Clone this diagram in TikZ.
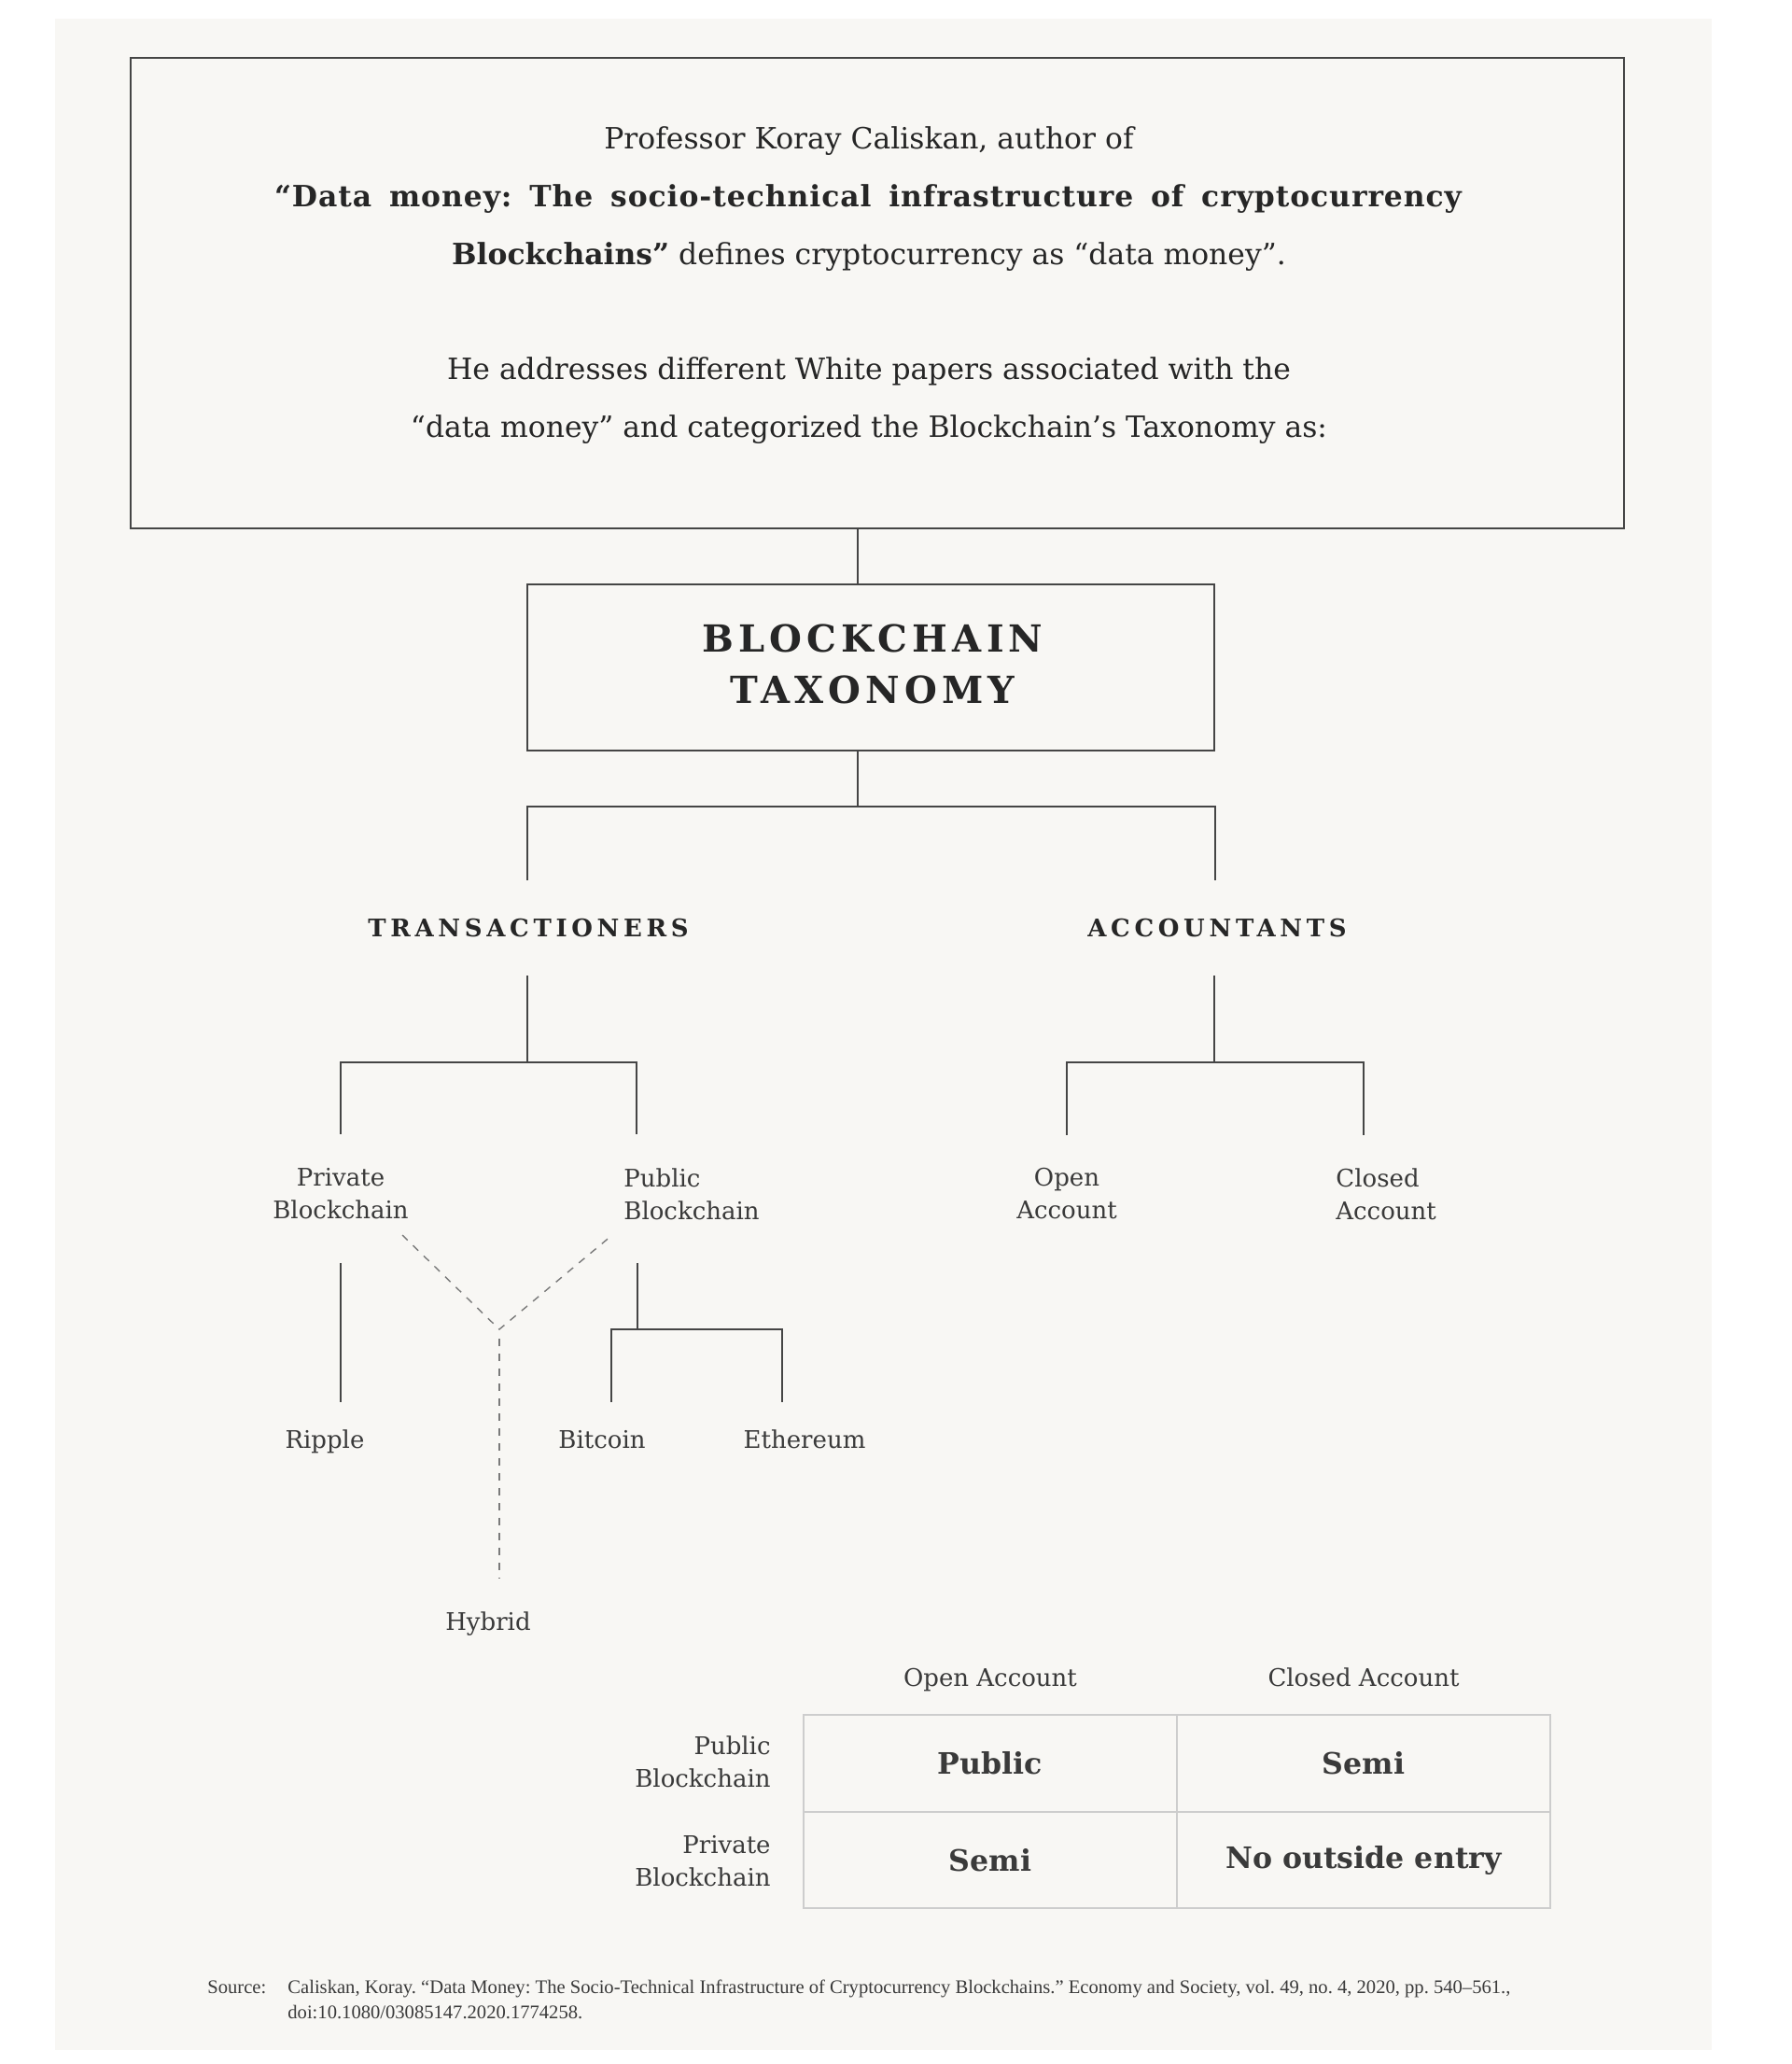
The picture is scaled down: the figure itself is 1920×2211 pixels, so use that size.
\documentclass[tikz,border=0pt]{standalone}
\usepackage{fontspec}
\setmainfont{DejaVu Serif}
\newfontfamily\srcfont{Liberation Serif}
\definecolor{bg}{HTML}{F8F7F4}
\definecolor{ink}{HTML}{262626}
\definecolor{txt}{HTML}{3A3A3A}
\definecolor{ln}{HTML}{454545}
\definecolor{dsh}{HTML}{7A7A7A}
\definecolor{gridc}{HTML}{CDCDCD}
\tikzset{
  conn/.style={draw=ln, line width=0.8pt},
  dashconn/.style={draw=dsh, line width=0.7pt, dash pattern=on 4pt off 4pt},
  framebox/.style={draw=ln, line width=0.8pt, inner sep=0pt, outer sep=0pt},
  introline/.style={anchor=base, inner sep=0pt, text=ink, font=\fontsize{15.7pt}{31pt}\selectfont},
  lbl/.style={inner sep=0pt, text=txt, font=\fontsize{13pt}{17.5pt}\selectfont},
  headlbl/.style={anchor=base, inner sep=0pt, text=ink, font=\fontsize{13pt}{16pt}\selectfont\bfseries\addfontfeature{LetterSpace=18}},
  taxlbl/.style={inner sep=0pt, text=ink, align=center, font=\fontsize{20pt}{27.5pt}\selectfont\bfseries\addfontfeature{LetterSpace=13}},
  cell/.style={draw=gridc, line width=0.8pt, inner sep=0pt, outer sep=0pt, text=txt, font=\fontsize{15.8pt}{18pt}\selectfont\bfseries},
  srcl/.style={anchor=base west, inner sep=0pt, text=txt, font=\srcfont\fontsize{10.3pt}{13.5pt}\selectfont},
}
\begin{document}
\frenchspacing
\begin{tikzpicture}[x=0.5pt,y=-0.5pt]
\useasboundingbox (0,0) rectangle (1920,2211);
\fill[white] (0,0) rectangle (1920,2211);
\fill[bg] (59,20) rectangle (1834,2196);

% intro box
\node[framebox, minimum width=800pt, minimum height=252pt] (intro) at (940,314) {};
\node[introline] (i1) at (931,159) {Professor Koray Caliskan, author of};
\node[introline] (i2) at (930,221) {\makebox[636pt][s]{\bfseries\addfontfeature{LetterSpace=3}“Data money: The socio-technical infrastructure of cryptocurrency}};
\node[introline] (i3) at (931,283) {\textbf{Blockchains”} defines cryptocurrency as “data money”.};
\node[introline] (i4) at (931,406) {He addresses different White papers associated with the};
\node[introline] (i5) at (931,468) {“data money” and categorized the Blockchain’s Taxonomy as:};

% taxonomy box
\node[framebox, minimum width=368pt, minimum height=89pt] (tax) at (933,715) {};
\node[taxlbl] (taxt) at (935,711) {BLOCKCHAIN\\TAXONOMY};

\coordinate (j0) at (919,864);
\draw[conn] (intro.south -| j0) -- (tax.north -| j0);
\draw[conn] (tax.south -| j0) -- (j0);
\coordinate (trT) at (565,943);
\coordinate (trA) at (1302,943);
\draw[conn] (trT) |- (j0) -| (trA);

\node[headlbl] (trans) at (566,1003) {TRANSACTIONERS};
\node[headlbl] (acc) at (1304,1003) {ACCOUNTANTS};

% transactioners branch
\coordinate (tb) at (565,1045);
\coordinate (tj) at (565,1138);
\coordinate (pvt) at (365,1215);
\coordinate (pbt) at (682,1215);
\draw[conn] (tb) -- (tj);
\draw[conn] (pvt) |- (tj) -| (pbt);

% accountants branch
\coordinate (ab) at (1301,1045);
\coordinate (aj) at (1301,1138);
\coordinate (oat) at (1143,1216);
\coordinate (cat) at (1461,1216);
\draw[conn] (ab) -- (aj);
\draw[conn] (oat) |- (aj) -| (cat);

\node[lbl, align=center] (priv) at (365,1279) {Private\\Blockchain};
\node[lbl, align=left, anchor=west] (pub) at (668,1279) {Public\\Blockchain};
\node[lbl, align=center] (open) at (1143,1279) {Open\\Account};
\node[lbl, align=left, anchor=west] (closed) at (1431,1279) {Closed\\Account};

% private -> ripple
\coordinate (pvb) at (365,1353);
\coordinate (rit) at (365,1502);
\draw[conn] (pvb) -- (rit);
\node[lbl, anchor=base] (ripple) at (348,1551) {Ripple};

% public -> bitcoin, ethereum
\coordinate (pbb) at (683,1353);
\coordinate (pbj) at (683,1424);
\coordinate (btt) at (655,1502);
\coordinate (ett) at (838,1502);
\draw[conn] (pbb) -- (pbj);
\draw[conn] (btt) |- (pbj) -| (ett);
\node[lbl, anchor=base] (btc) at (645,1551) {Bitcoin};
\node[lbl, anchor=base] (eth) at (862,1551) {Ethereum};

% hybrid
\coordinate (hl) at (431,1323);
\coordinate (hr) at (656,1323);
\coordinate (hj) at (535,1424);
\coordinate (hs) at (535,1434);
\coordinate (hb) at (535,1691);
\draw[dashconn] (hl) -- (hj) -- (hr);
\draw[dashconn] (hs) -- (hb);
\node[lbl, anchor=base] (hyb) at (523,1746) {Hybrid};

% table
\node[lbl, anchor=base] (h1) at (1061,1806) {Open Account};
\node[lbl, anchor=base] (h2) at (1461,1806) {Closed Account};
\node[lbl, align=right, anchor=east] (r1) at (826,1887) {Public\\Blockchain};
\node[lbl, align=right, anchor=east] (r2) at (826,1994) {Private\\Blockchain};
\node[cell, minimum width=200pt, minimum height=52pt] (c11) at (1061,1889) {Public};
\node[cell, minimum width=200pt, minimum height=52pt] (c12) at (1461,1889) {Semi};
\node[cell, minimum width=200pt, minimum height=51.5pt] (c21) at (1061,1992.5) {Semi};
\node[cell, minimum width=200pt, minimum height=51.5pt] (c22) at (1461,1992.5) {No outside entry};

% source
\node[srcl] (srclab) at (222,2135) {Source:};
\node[srcl] (src1) at (308,2135) {Caliskan, Koray. “Data Money: The Socio-Technical Infrastructure of Cryptocurrency Blockchains.” Economy and Society, vol. 49, no. 4, 2020, pp. 540–561.,};
\node[srcl] (src2) at (308,2162) {doi:10.1080/03085147.2020.1774258.};
\end{tikzpicture}
\end{document}
